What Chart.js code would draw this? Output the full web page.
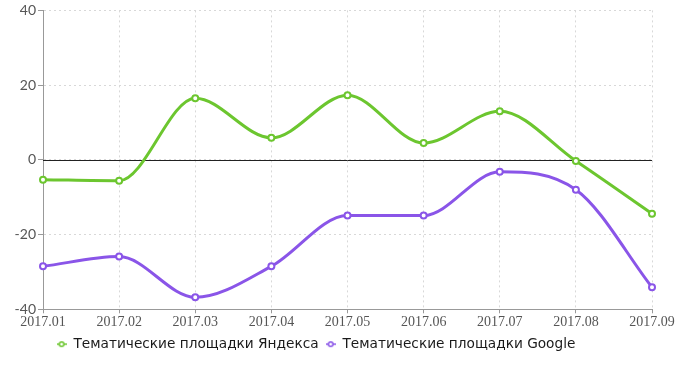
<!DOCTYPE html>
<html>
<head>
<meta charset="utf-8">
<script src="https://cdn.jsdelivr.net/npm/chart.js@4/dist/chart.umd.min.js"></script>
<style>
    html, body { margin: 0; padding: 0; background: #fff; }
    #wrap { width: 700px; height: 383px; position: relative; }
</style>
</head>
<body>
<div id="wrap"><canvas id="trendChart"></canvas></div>
<script>
const months = ['2017.01', '2017.02', '2017.03', '2017.04', '2017.05', '2017.06', '2017.07', '2017.08', '2017.09'];
const yandexValues = [-5.3, -5.6, 16.5, 5.9, 17.3, 4.5, 13.0, -0.3, -14.4];
const googleValues = [-28.5, -25.9, -36.8, -28.5, -14.9, -14.9, -3.2, -8.0, -34.1];
const yTicks = [-40, -20, 0, 20, 40];

const GREEN = '#6cc62f';
const PURPLE = '#8a55e8';

// little "line with circle" marker for the legend
const legendMarker = (color) => {
    const c = document.createElement('canvas');
    c.width = 10;
    c.height = 8;
    const ctx = c.getContext('2d');
    ctx.strokeStyle = color;
    ctx.lineWidth = 1.5;
    ctx.beginPath();
    ctx.moveTo(0, 4);
    ctx.lineTo(10, 4);
    ctx.stroke();
    ctx.fillStyle = '#fff';
    ctx.beginPath();
    ctx.arc(5, 4, 2.3, 0, Math.PI * 2);
    ctx.fill();
    ctx.stroke();
    return c;
};

const zeroLine = {
    id: 'zeroLine',
    beforeDatasetsDraw(chart) {
        const { ctx, chartArea, scales } = chart;
        const y = Math.round(scales.y.getPixelForValue(0)) + 0.5;
        ctx.save();
        ctx.strokeStyle = '#222';
        ctx.lineWidth = 1;
        ctx.beginPath();
        ctx.moveTo(chartArea.left, y);
        ctx.lineTo(chartArea.right, y);
        ctx.stroke();
        ctx.restore();
    },
};

// the original legend sits a bit left of centre
const legendNudge = {
    id: 'legendNudge',
    afterLayout(chart) {
        chart.legend.left -= 10;
        chart.legend.right -= 10;
    },
};

const lineSet = (label, data, color) => ({
    label,
    data,
    borderColor: color,
    backgroundColor: '#fff',
    pointBackgroundColor: '#fff',
    pointBorderColor: color,
    pointRadius: 3,
    pointBorderWidth: 2,
    borderWidth: 3,
    cubicInterpolationMode: 'monotone',
    fill: false,
    legendMarker: legendMarker(color),
});

new Chart(document.getElementById('trendChart'), {
    type: 'line',
    data: {
        labels: months,
        datasets: [
            lineSet('Тематические площадки Яндекса', yandexValues, GREEN),
            lineSet('Тематические площадки Google', googleValues, PURPLE),
        ],
    },
    plugins: [zeroLine, legendNudge],
    options: {
        responsive: true,
        maintainAspectRatio: false,
        animation: false,
        layout: { padding: { top: 7, right: 48, bottom: 22, left: 0 } },
        plugins: {
            tooltip: { enabled: false },
            legend: {
                position: 'bottom',
                labels: {
                    usePointStyle: true,
                    pointStyleWidth: 10,
                    boxWidth: 10,
                    color: '#1a1a1a',
                    font: { family: 'DejaVu Sans', size: 13.7 },
                    padding: 7,
                    generateLabels(chart) {
                        return chart.data.datasets.map((ds, i) => ({
                            text: ds.label,
                            pointStyle: ds.legendMarker,
                            fillStyle: '#fff',
                            strokeStyle: ds.borderColor,
                            lineWidth: 0,
                            fontColor: '#1a1a1a',
                            hidden: !chart.isDatasetVisible(i),
                            datasetIndex: i,
                        }));
                    },
                },
            },
        },
        scales: {
            x: {
                offset: false,
                afterFit(scale) { scale.height = 21; },
                grid: {
                    color: '#d8d8d8',
                    tickColor: '#999',
                    tickLength: 4,
                },
                border: { display: true, color: '#999', width: 1, dash: [2, 3] },
                ticks: {
                    color: '#555',
                    padding: 1,
                    maxRotation: 0,
                    font: { family: 'Liberation Serif', size: 14 },
                },
            },
            y: {
                min: -40,
                max: 40,
                afterFit(scale) { scale.width = 43; },
                afterBuildTicks(scale) { scale.ticks = yTicks.map((v) => ({ value: v })); },
                grid: {
                    color: '#d8d8d8',
                    tickColor: '#999',
                    tickLength: 5,
                },
                border: { display: true, color: '#999', width: 1, dash: [2, 3] },
                ticks: {
                    color: '#555',
                    padding: 2,
                    font: { family: 'Lato', size: 14 },
                },
            },
        },
    },
});
</script>
</body>
</html>
